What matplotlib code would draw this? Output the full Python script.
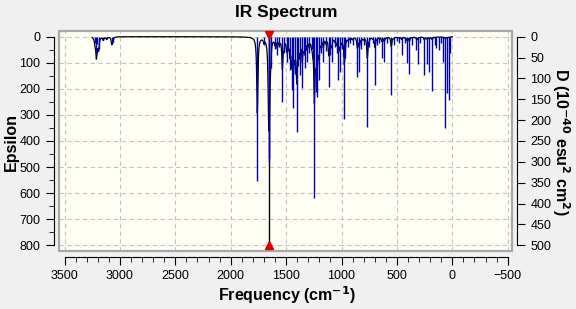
import numpy as np
import matplotlib
matplotlib.use("Agg")
from matplotlib import pyplot as plt
from matplotlib.patches import Rectangle
from matplotlib.ticker import MultipleLocator

plt.rcParams['font.family'] = ['Liberation Sans', 'DejaVu Sans']

# stick spectrum: frequency (cm-1) and D (10^-40 esu^2 cm^2)
freq = [3225, 3213, 3205, 3192, 3150, 3120, 3074, 3066,
        1760, 1700, 1658, 1651, 1640, 1600, 1580, 1560, 1534, 1520, 1495, 1480,
        1465, 1450, 1435, 1420, 1404, 1390, 1375, 1354, 1340, 1329, 1309, 1290,
        1270, 1260, 1245, 1230, 1218, 1203, 1185, 1164, 1140, 1115, 1100, 1088,
        1060, 1045, 1029, 1013, 995, 975, 968, 940, 920, 900, 857, 839, 820,
        800, 767, 750, 720, 698, 680, 660, 637, 614, 590, 551, 530, 500, 480,
        457, 430, 412, 388, 360, 328, 312, 290, 253, 231, 208, 181, 160, 147,
        117, 100, 81, 63, 45, 30, 22]
dstr = [15, 44, 18, 30, 8, 6, 16, 12,
        345, 20, 300, 290, 75, 30, 45, 25, 156, 40, 60, 35,
        80, 128, 171, 90, 229, 70, 92, 123, 45, 75, 60, 40,
        30, 55, 387, 132, 144, 104, 40, 60, 35, 120, 45, 60,
        25, 40, 104, 84, 30, 198, 50, 25, 15, 20, 97, 84, 30,
        20, 217, 25, 15, 116, 20, 15, 51, 60, 15, 140, 20, 10, 15,
        44, 15, 63, 90, 20, 32, 65, 15, 92, 65, 84, 130, 20, 26,
        32, 15, 60, 220, 136, 152, 40]
selected = 1655

freq = np.array(freq, dtype=float)
dstr = np.array(dstr, dtype=float)

# broadened epsilon curve (Lorentzian, like the program that drew it)
nu = np.linspace(3250, 0, 8000)
gam = 6.0
amp = 4.8e-4 * dstr * freq
eps = (amp[None, :] * gam**2 / ((nu[:, None] - freq[None, :])**2 + gam**2)).sum(axis=1)

fig = plt.figure(figsize=(5.76, 3.09), dpi=100, facecolor='#f0f0f0')
ax = fig.add_axes([59.3/576, 1-251/309, (511.7-59.3)/576, (251-30.7)/309])
ax.set_facecolor('#fffff5')

ax.set_xlim(3547, -536)
ax.set_ylim(822, -23)

ax.xaxis.set_major_locator(MultipleLocator(500))
ax.xaxis.set_minor_locator(MultipleLocator(100))
ax.yaxis.set_major_locator(MultipleLocator(100))
ax.yaxis.set_minor_locator(MultipleLocator(50))
ax.grid(True, which='major', ls=(0, (4, 3)), color='#c4c4c4', lw=0.8)

ax.plot(nu, eps, color='black', lw=0.9, zorder=3)
ax.vlines(selected, 0, 800, color='black', lw=1, zorder=4)

for s in ['top', 'right']:
    ax.spines[s].set_visible(False)
ax.spines['left'].set_position(('outward', 4))
ax.spines['bottom'].set_position(('outward', 4))
ax.spines['left'].set_bounds(0, 800)
ax.spines['bottom'].set_bounds(3500, -500)
ax.tick_params(which='major', length=6, labelsize=9, direction='out')
ax.tick_params(which='minor', length=3.5, direction='out')
ax.add_patch(Rectangle((0, 0), 1, 1, transform=ax.transAxes, fill=False,
                       edgecolor='#a8a8a8', lw=1.6, clip_on=False, zorder=5))

ax2 = ax.twinx()
ax2.set_ylim(822/1.6, -23/1.6)
ax2.patch.set_visible(False)
for s in ['top', 'left', 'bottom']:
    ax2.spines[s].set_visible(False)
ax2.spines['right'].set_position(('outward', 4))
ax2.spines['right'].set_bounds(0, 500)
ax2.yaxis.set_major_locator(MultipleLocator(50))
ax2.tick_params(length=6, labelsize=9)
ax2.vlines(freq, 0, dstr, color='#0000b4', lw=1.0, zorder=2)

ax2.plot(selected, -4, marker='v', color='#e00000', ms=6, clip_on=False, zorder=6)
ax2.plot(selected, 500, marker='^', color='#e00000', ms=6, clip_on=False, zorder=6)

fig.text(286/576, 1-13/309, 'IR Spectrum', ha='center', va='center',
         fontsize=12.5, fontweight='bold')
fig.text(287/576, 1-295/309, 'Frequency (cm$^{\\mathbf{-1}}$)', ha='center', va='center',
         fontsize=11.5, fontweight='bold')
fig.text(11/576, 1-142/309, 'Epsilon', ha='center', va='center', rotation=90,
         fontsize=11.5, fontweight='bold')
fig.text(561/576, 1-142/309, 'D (10$^{\\mathbf{-40}}$ esu$^{\\mathbf{2}}$ cm$^{\\mathbf{2}}$)',
         ha='center', va='center', rotation=270, fontsize=11.5, fontweight='bold')

fig.savefig('out.png', dpi=100, facecolor=fig.get_facecolor())
